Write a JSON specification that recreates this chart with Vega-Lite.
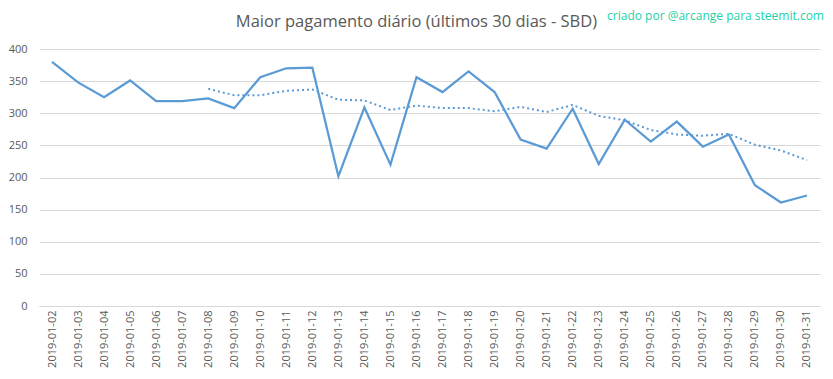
{
  "$schema": "https://vega.github.io/schema/vega-lite/v6.json",
  "width": 781,
  "height": 257,
  "autosize": {"type": "none"},
  "padding": {"left": 39, "top": 49, "right": 13, "bottom": 73},
  "background": "white",
  "config": {
    "view": {"stroke": null},
    "font": "Open Sans",
    "axisY": {
      "title": null,
      "values": [0, 50, 100, 150, 200, 250, 300, 350, 400],
      "labelOverlap": false,
      "domain": false,
      "ticks": false,
      "labelPadding": 12,
      "labelFontSize": 11,
      "labelColor": "#595959",
      "labelFont": "Open Sans",
      "gridColor": "#d9d9d9",
      "gridWidth": 1
    }
  },
  "data": {
    "values": [
      {"date": "2019-01-02", "valor": 380, "media": null},
      {"date": "2019-01-03", "valor": 348, "media": null},
      {"date": "2019-01-04", "valor": 325, "media": null},
      {"date": "2019-01-05", "valor": 351, "media": null},
      {"date": "2019-01-06", "valor": 319, "media": null},
      {"date": "2019-01-07", "valor": 319, "media": null},
      {"date": "2019-01-08", "valor": 323, "media": 338},
      {"date": "2019-01-09", "valor": 308, "media": 328},
      {"date": "2019-01-10", "valor": 356, "media": 328},
      {"date": "2019-01-11", "valor": 370, "media": 335},
      {"date": "2019-01-12", "valor": 371, "media": 337},
      {"date": "2019-01-13", "valor": 202, "media": 321},
      {"date": "2019-01-14", "valor": 309, "media": 320},
      {"date": "2019-01-15", "valor": 220, "media": 305},
      {"date": "2019-01-16", "valor": 356, "media": 312},
      {"date": "2019-01-17", "valor": 333, "media": 308},
      {"date": "2019-01-18", "valor": 365, "media": 308},
      {"date": "2019-01-19", "valor": 333, "media": 303},
      {"date": "2019-01-20", "valor": 259, "media": 310},
      {"date": "2019-01-21", "valor": 245, "media": 302},
      {"date": "2019-01-22", "valor": 307, "media": 313},
      {"date": "2019-01-23", "valor": 221, "media": 296},
      {"date": "2019-01-24", "valor": 290, "media": 289},
      {"date": "2019-01-25", "valor": 256, "media": 274},
      {"date": "2019-01-26", "valor": 287, "media": 267},
      {"date": "2019-01-27", "valor": 248, "media": 265},
      {"date": "2019-01-28", "valor": 267, "media": 268},
      {"date": "2019-01-29", "valor": 188, "media": 251},
      {"date": "2019-01-30", "valor": 161, "media": 242},
      {"date": "2019-01-31", "valor": 172, "media": 227}
    ]
  },
  "encoding": {
    "x": {
      "field": "date",
      "type": "ordinal",
      "sort": null,
      "scale": {"type": "point", "padding": 0.5},
      "axis": {
        "title": null,
        "labelAngle": -90,
        "labelAlign": "right",
        "labelBaseline": "middle",
        "labelFontSize": 11,
        "labelColor": "#595959",
        "labelFont": "Open Sans",
        "labelPadding": 4,
        "labelOverlap": false,
        "ticks": false,
        "domainColor": "#d9d9d9",
        "grid": false
      }
    }
  },
  "layer": [
    {
      "mark": {"type": "line", "color": "#5b9bd5", "strokeWidth": 2.25},
      "encoding": {
        "y": {
          "field": "valor",
          "type": "quantitative",
          "scale": {"domain": [0, 400], "nice": false},
          "axis": {"values": [0, 50, 100, 150, 200, 250, 300, 350, 400], "labelOverlap": false, "tickCount": 9}
        }
      }
    },
    {
      "transform": [{"filter": "datum.media != null"}],
      "mark": {"type": "line", "color": "#5b9bd5", "strokeWidth": 2, "strokeDash": [2, 3]},
      "encoding": {
        "y": {"field": "media", "type": "quantitative", "axis": {"values": [0, 50, 100, 150, 200, 250, 300, 350, 400], "labelOverlap": false, "tickCount": 9}}
      }
    },
    {
      "data": {"values": [{"date": "2019-01-31", "y": 452, "txt": "criado por @arcange para steemit.com"}]},
      "mark": {"type": "text", "align": "right", "baseline": "middle", "color": "#1fcfa8", "fontSize": 12, "font": "Open Sans", "dx": 17, "clip": false},
      "encoding": {
        "y": {"field": "y", "type": "quantitative", "axis": {"values": [0, 50, 100, 150, 200, 250, 300, 350, 400], "labelOverlap": false, "tickCount": 9}},
        "text": {"field": "txt"}
      }
    },
    {
      "data": {"values": [{"date": "2019-01-16", "y": 442, "txt": "Maior pagamento diário (últimos 30 dias  - SBD)"}]},
      "mark": {"type": "text", "align": "center", "baseline": "middle", "color": "#595959", "fontSize": 16.5, "font": "Open Sans", "clip": false},
      "encoding": {
        "y": {"field": "y", "type": "quantitative", "axis": {"values": [0, 50, 100, 150, 200, 250, 300, 350, 400], "labelOverlap": false, "tickCount": 9}},
        "text": {"field": "txt"}
      }
    }
  ]
}
